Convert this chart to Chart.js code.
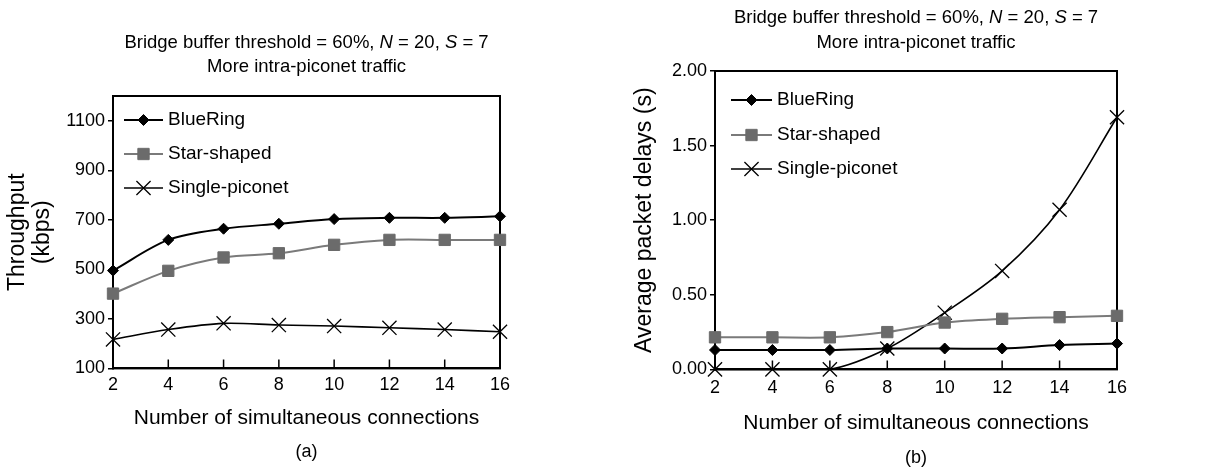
<!DOCTYPE html>
<html>
<head>
<meta charset="utf-8">
<script src="https://cdn.jsdelivr.net/npm/chart.js@4.4.1/dist/chart.umd.min.js"></script>
<style>
  html, body { margin: 0; padding: 0; background: #fff; }
  #wrap { position: relative; width: 1216px; height: 471px; }
  .panel { position: absolute; top: 0; width: 608px; height: 471px; }
</style>
</head>
<body>
<div id="wrap">
  <div class="panel" style="left:0"><canvas id="chartA" width="608" height="471"></canvas></div>
  <div class="panel" style="left:608px"><canvas id="chartB" width="608" height="471"></canvas></div>
</div>
<script>
// data
const connections = [2, 4, 6, 8, 10, 12, 14, 16]
const seriesNames = ['BlueRing', 'Star-shaped', 'Single-piconet']

const throughputBlueRing = [495, 619, 664, 684, 703, 708, 708, 714]
const throughputStar = [402, 494, 548, 565, 599, 619, 619, 619]
const throughputSingle = [217, 257, 282, 275, 271, 264, 257, 248]

const delayBlueRing = [0.13, 0.13, 0.13, 0.14, 0.14, 0.14, 0.163, 0.173]
const delayStar = [0.215, 0.215, 0.215, 0.25, 0.314, 0.339, 0.35, 0.359]
const delaySingle = [0, 0, 0, 0.14, 0.38, 0.66, 1.07, 1.69]

const xTicks = [2, 4, 6, 8, 10, 12, 14, 16]
const throughputTicks = [100, 300, 500, 700, 900, 1100]
const delayTicks = [0, 0.5, 1, 1.5, 2]

const FONT = "'Liberation Sans', Arial, Helvetica, sans-serif"

const seriesStyle = [
  { line: '#000', width: 2, pointStyle: 'rectRot', radius: 5.5, fill: '#000', stroke: '#000', pw: 1 },
  { line: '#7a7a7a', width: 2, pointStyle: 'rect', radius: 8, fill: '#6b6b6b', stroke: '#6b6b6b', pw: 1 },
  { line: '#000', width: 1.6, pointStyle: 'crossRot', radius: 10, fill: '#000', stroke: '#000', pw: 1.3 }
]

function makeDatasets(seriesValues) {
  return seriesValues.map((vals, i) => {
    const s = seriesStyle[i]
    return {
      label: seriesNames[i],
      data: connections.map((x, j) => ({ x, y: vals[j] })),
      borderColor: s.line,
      borderWidth: s.width,
      pointStyle: s.pointStyle,
      pointRadius: s.radius,
      pointBackgroundColor: s.fill,
      pointBorderColor: s.stroke,
      pointBorderWidth: s.pw,
      tension: 0.33,
      clip: false
    }
  })
}

// title with italic N and S, centred over the plot
const panelTitle = {
  id: 'panelTitle',
  afterDraw(chart, args, opts) {
    const ctx = chart.ctx
    const cx = (chart.chartArea.left + chart.chartArea.right) / 2
    ctx.save()
    ctx.fillStyle = '#000'
    ctx.textBaseline = 'middle'
    ctx.textAlign = 'left'
    opts.lines.forEach((segs, i) => {
      let total = 0
      segs.forEach(s => {
        ctx.font = (s[1] ? 'italic ' : '') + opts.size + 'px ' + FONT
        total += ctx.measureText(s[0]).width
      })
      let x = cx - total / 2
      segs.forEach(s => {
        ctx.font = (s[1] ? 'italic ' : '') + opts.size + 'px ' + FONT
        ctx.fillText(s[0], x, opts.y[i])
        x += ctx.measureText(s[0]).width
      })
    })
    ctx.restore()
  }
}

// box around the plot and inward x ticks
const frame = {
  id: 'frame',
  beforeDatasetsDraw(chart) {
    const { ctx, chartArea: a } = chart
    const xs = chart.scales.x
    ctx.save()
    ctx.strokeStyle = '#000'
    ctx.lineWidth = 2
    ctx.strokeRect(a.left, a.top, a.right - a.left, a.bottom - a.top)
    ctx.lineWidth = 1.5
    ctx.beginPath()
    xTicks.forEach(v => {
      const px = xs.getPixelForValue(v)
      ctx.moveTo(px, a.bottom)
      ctx.lineTo(px, a.bottom - 9)
    })
    ctx.stroke()
    ctx.restore()
  }
}

function drawMarker(ctx, style, radius, x, y) {
  ctx.beginPath()
  if (style === 'rectRot') {
    ctx.moveTo(x, y - radius); ctx.lineTo(x + radius, y); ctx.lineTo(x, y + radius); ctx.lineTo(x - radius, y)
    ctx.closePath(); ctx.fill(); ctx.stroke()
  } else if (style === 'rect') {
    const h = radius * Math.SQRT1_2
    ctx.rect(x - h, y - h, 2 * h, 2 * h); ctx.fill(); ctx.stroke()
  } else {
    const h = radius * Math.SQRT1_2
    ctx.moveTo(x - h, y - h); ctx.lineTo(x + h, y + h)
    ctx.moveTo(x + h, y - h); ctx.lineTo(x - h, y + h)
    ctx.stroke()
  }
}

// legend drawn inside the plot: line + marker + label
const insideLegend = {
  id: 'insideLegend',
  afterDraw(chart, args, opts) {
    const ctx = chart.ctx
    chart.data.datasets.forEach((ds, i) => {
      const y = opts.rows[i]
      ctx.save()
      ctx.strokeStyle = ds.borderColor
      ctx.lineWidth = ds.borderWidth
      ctx.beginPath(); ctx.moveTo(opts.x0, y); ctx.lineTo(opts.x1, y); ctx.stroke()
      ctx.fillStyle = ds.pointBackgroundColor
      ctx.strokeStyle = ds.pointBorderColor
      ctx.lineWidth = ds.pointBorderWidth
      drawMarker(ctx, ds.pointStyle, ds.pointRadius, (opts.x0 + opts.x1) / 2, y)
      ctx.fillStyle = '#000'
      ctx.font = opts.size + 'px ' + FONT
      ctx.textBaseline = 'middle'
      ctx.textAlign = 'left'
      ctx.fillText(ds.label, opts.tx, y)
      ctx.restore()
    })
  }
}

const titleLines = [
  [['Bridge buffer threshold = 60%, ', false], ['N', true], [' = 20, ', false], ['S', true], [' = 7', false]],
  [['More intra-piconet traffic', false]]
]

function buildChart(id, cfg) {
  return new Chart(document.getElementById(id), {
    type: 'line',
    data: { datasets: makeDatasets(cfg.series) },
    plugins: [panelTitle, frame, insideLegend],
    options: {
      responsive: false,
      animation: false,
      layout: { padding: { top: cfg.top, right: cfg.right, left: 0, bottom: 0 } },
      plugins: {
        legend: { display: false },
        tooltip: { enabled: false },
        title: { display: false },
        subtitle: {
          display: true, text: cfg.caption, position: 'bottom', fullSize: false,
          color: '#000', font: { family: FONT, size: 18, lineHeight: 1.2 },
          padding: { top: 0, bottom: cfg.captionPad }
        },
        panelTitle: { lines: titleLines, y: cfg.titleY, size: 18.5 },
        insideLegend: cfg.legend
      },
      scales: {
        x: {
          type: 'linear', min: 2, max: 16,
          afterBuildTicks: s => { s.ticks = xTicks.map(v => ({ value: v })) },
          afterFit: s => { s.height = cfg.xHeight },
          grid: { display: false, drawTicks: false },
          border: { display: true, color: '#000', width: 2 },
          ticks: { color: '#000', font: { family: FONT, size: 18 }, padding: cfg.xTickPad, maxRotation: 0, autoSkip: false },
          title: {
            display: true, text: 'Number of simultaneous connections', color: '#000',
            font: { family: FONT, size: 21, lineHeight: 1.2 }, padding: { top: 0, bottom: cfg.xTitlePad }
          }
        },
        y: {
          min: cfg.yMin, max: cfg.yMax,
          afterBuildTicks: s => { s.ticks = cfg.yTicks.map(v => ({ value: v })) },
          afterFit: s => { s.width = cfg.yWidth },
          grid: { drawOnChartArea: false, drawTicks: true, tickLength: 5, color: '#000', lineWidth: 1.5 },
          border: { display: true, color: '#000', width: 2 },
          ticks: { color: '#000', font: { family: FONT, size: 18 }, padding: 3, callback: cfg.yFormat },
          title: {
            display: true, text: cfg.yTitle, color: '#000',
            font: { family: FONT, size: 23, lineHeight: cfg.yTitleLh }, padding: { top: cfg.yTitlePad, bottom: 0 }
          }
        }
      }
    }
  })
}

buildChart('chartA', {
  series: [throughputBlueRing, throughputStar, throughputSingle],
  caption: '(a)', captionPad: 8,
  top: 96, right: 108, titleY: [43, 67],
  xHeight: 73, xTickPad: 6, xTitlePad: 11,
  yMin: 100, yMax: 1200, yTicks: throughputTicks, yWidth: 113, yTitlePad: 5, yTitleLh: 1.09,
  yFormat: v => String(v),
  yTitle: ['Throughput', '(kbps)'],
  legend: { x0: 124, x1: 163, tx: 168, rows: [120, 154, 188], size: 19 }
})

buildChart('chartB', {
  series: [delayBlueRing, delayStar, delaySingle],
  caption: '(b)', captionPad: 2,
  top: 71, right: 99, titleY: [18, 43],
  xHeight: 78, xTickPad: 8, xTitlePad: 12,
  yMin: 0, yMax: 2, yTicks: delayTicks, yWidth: 107, yTitlePad: 23, yTitleLh: 1.2,
  yFormat: v => v.toFixed(2),
  yTitle: 'Average packet delays (s)',
  legend: { x0: 123, x1: 164, tx: 169, rows: [100, 135, 169], size: 19 }
})
</script>
</body>
</html>
